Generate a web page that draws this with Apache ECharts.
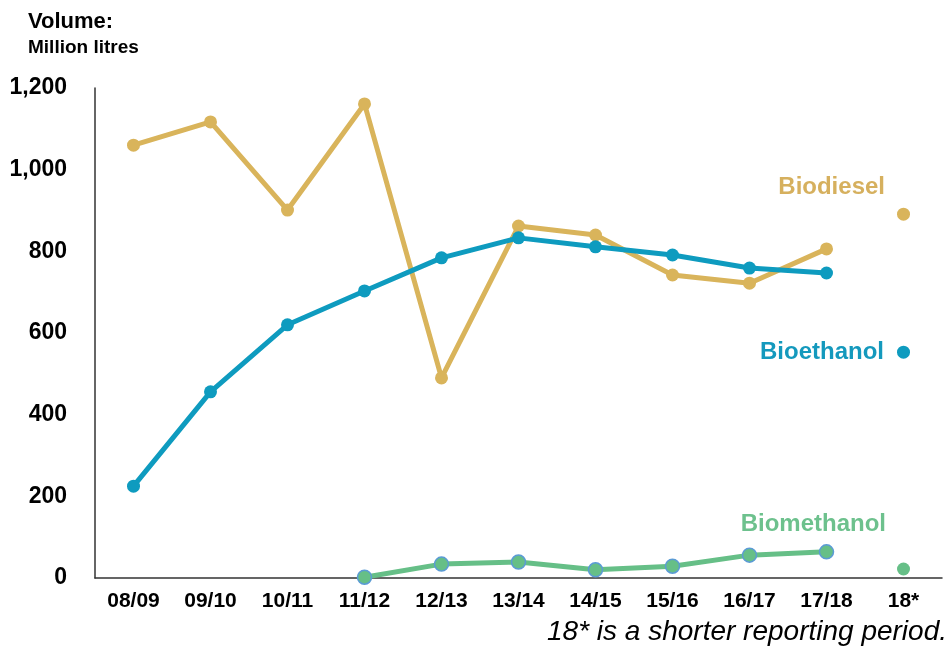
<!DOCTYPE html>
<html>
<head>
<meta charset="utf-8">
<script src="https://cdn.jsdelivr.net/npm/echarts@6/dist/echarts.min.js"></script>
<style>
  html, body { margin: 0; padding: 0; background: #fff; }
  #chart { width: 950px; height: 651px; }
</style>
</head>
<body>
<div id="chart"></div>
<script>
// periods on the x axis
const periods = ['08/09', '09/10', '10/11', '11/12', '12/13', '13/14', '14/15', '15/16', '16/17', '17/18', '18*']
const yTicks = [0, 200, 400, 600, 800, 1000, 1200]

// full-year values (08/09 .. 17/18), '-' = no data
const biodiesel = [1060, 1117, 901, 1161, 490, 862, 840, 742, 722, 806]
const bioethanol = [225, 456, 620, 703, 784, 833, 811, 791, 759, 747]
const biomethanol = ['-', '-', '-', 2, 34, 39, 20, 29, 56, 64]

// shorter reporting period 18*
const biodiesel18 = 891
const bioethanol18 = 553
const biomethanol18 = 22

const cDiesel = '#D9B45B'
const cEthanol = '#0E9BBF'
const cMethanol = '#66BF87'
const font = '"Liberation Sans", Arial, sans-serif'

function only18(v) {
  return periods.map((p, i) => (i === periods.length - 1 ? v : '-'))
}

const chart = echarts.init(document.getElementById('chart'))

chart.setOption({
  animation: false,
  textStyle: { fontFamily: font },
  grid: { left: 95, right: 8, top: 88, bottom: 73 },
  xAxis: {
    type: 'category',
    data: periods,
    boundaryGap: true,
    axisLine: { lineStyle: { color: '#333', width: 1.5 } },
    axisTick: { show: false },
    axisLabel: { color: '#000', fontWeight: 'bold', fontSize: 21, margin: 13, interval: 0, fontFamily: font }
  },
  yAxis: {
    type: 'value',
    min: 0,
    max: yTicks[yTicks.length - 1],
    interval: 200,
    splitLine: { show: false },
    axisLine: { show: true, lineStyle: { color: '#333', width: 1.5 } },
    axisTick: { show: false },
    axisLabel: {
      color: '#000', fontWeight: 'bold', fontSize: 23, margin: 28, fontFamily: font,
      formatter: v => v.toLocaleString('en-US')
    }
  },
  series: [
    {
      name: 'Biodiesel', type: 'line', data: biodiesel,
      symbol: 'circle', symbolSize: 13,
      lineStyle: { color: cDiesel, width: 5 },
      itemStyle: { color: cDiesel }
    },
    {
      name: 'Bioethanol', type: 'line', data: bioethanol,
      symbol: 'circle', symbolSize: 13,
      lineStyle: { color: cEthanol, width: 5 },
      itemStyle: { color: cEthanol }
    },
    {
      name: 'Biomethanol', type: 'line', data: biomethanol,
      symbol: 'circle', symbolSize: 14,
      lineStyle: { color: cMethanol, width: 5 },
      itemStyle: { color: cMethanol, borderColor: '#5B9BD5', borderWidth: 1.5 }
    },
    { type: 'scatter', data: only18(biodiesel18), symbolSize: 13, itemStyle: { color: cDiesel, opacity: 1 } },
    { type: 'scatter', data: only18(bioethanol18), symbolSize: 13, itemStyle: { color: cEthanol, opacity: 1 } },
    { type: 'scatter', data: only18(biomethanol18), symbolSize: 13, itemStyle: { color: cMethanol, opacity: 1 } }
  ],
  graphic: [
    { type: 'text', left: 28, top: 11, style: { text: 'Volume:', font: 'bold 22px ' + font, fill: '#000' } },
    { type: 'text', left: 28, top: 38, style: { text: 'Million litres', font: 'bold 19px ' + font, fill: '#000' } },
    { type: 'text', right: 65, top: 175, style: { text: 'Biodiesel', font: 'bold 24px ' + font, fill: '#D6B05E' } },
    { type: 'text', right: 66, top: 340, style: { text: 'Bioethanol', font: 'bold 24px ' + font, fill: '#1499BD' } },
    { type: 'text', right: 64, top: 512, style: { text: 'Biomethanol', font: 'bold 24px ' + font, fill: '#6DC18D' } },
    { type: 'text', right: 3, top: 618, style: { text: '18* is a shorter reporting period.', font: 'italic 28px ' + font, fill: '#000' } }
  ]
})
</script>
</body>
</html>
